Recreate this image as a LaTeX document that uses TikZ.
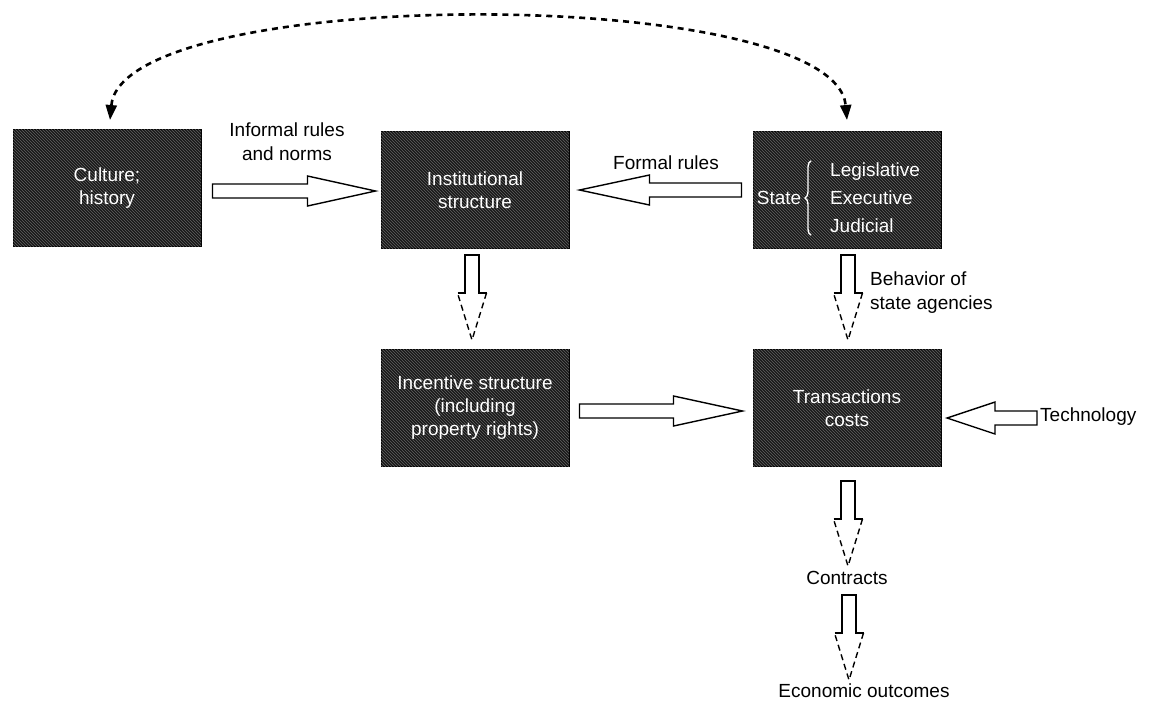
\documentclass[tikz,border=0pt]{standalone}
\usepackage{fontspec}
\setmainfont{Liberation Sans}
\usetikzlibrary{arrows.meta,calc,patterns,decorations.pathreplacing}
\tikzset{
  pics/hblock/.style args={#1/#2/#3}{code={
    \draw[blockline,fill=white] (0,-7) -- ({#1-#2},-7) -- ({#1-#2},-#3) -- (#1,0) -- ({#1-#2},#3) -- ({#1-#2},7) -- (0,7) -- cycle;}},
  pics/vblock/.style={code={
    \draw[blockline] (-14.5,38) -- (-7,38) -- (-7,0) -- (7,0) -- (7,38) -- (14.5,38);
    \draw[blockline,dash pattern=on 6pt off 4pt] (14.5,38) -- (0,85) -- (-14.5,38);}},
}
\begin{document}
\begin{tikzpicture}[x=1pt,y=-1pt,
  box/.style={draw=black, line width=1pt, fill=black!90,
    postaction={pattern=north west lines, pattern color=black!62},
    minimum width=188pt, minimum height=117pt, inner sep=0pt,
    text=white, align=center, font=\fontsize{19}{23}\selectfont},
  intext/.style={text=white, inner sep=0pt, font=\fontsize{19}{28}\selectfont},
  lbl/.style={font=\fontsize{19}{24}\selectfont, align=center, inner sep=0pt},
  blockline/.style={line width=1.4pt, line join=miter},
  bracestyle/.style={draw=white, line width=1.4pt, decorate,
    decoration={brace, amplitude=6pt}},
  feedback/.style={line width=2.6pt, dash pattern=on 6pt off 5pt,
    {Triangle[length=15pt,width=11pt]}-{Triangle[length=15pt,width=11pt]}},
]
\useasboundingbox (0,0) rectangle (1150,705);

% boxes
\node[box] (cult)  at (107,188) {Culture;\\history};
\node[box] (inst)  at (475,190) {Institutional\\structure};
\node[box] (state) at (847,190) {};
\node[box] (inc)   at (475,408) {Incentive structure\\(including\\property rights)};
\node[box] (trans) at (847,408) {Transactions\\costs};

% state contents
\node[intext] (statelbl) at ($(state.center)+(-68,8)$) {State};
\node[intext, align=left, anchor=west] (branches) at ($(state.center)+(-17,8)$) {Legislative\\Executive\\Judicial};
\draw[bracestyle] ($(branches.south west)+(-19,2)$) -- ($(branches.north west)+(-19,-2)$);

% labels
\node[lbl] (inf) at (287,142) {Informal rules\\and norms};
\node[lbl] (form) at (666,163) {Formal rules};
\node[lbl, align=left, anchor=west] (behav) at (870,293) {Behavior of\\state agencies};
\node[lbl, anchor=west] (tech) at (1040,417) {Technology};
\node[lbl] (contracts) at (847,578) {Contracts};
\node[lbl] (econ) at (864,691) {Economic outcomes};

% block arrows
\pic at ($(cult.east)+(11,3)$) {hblock=163/68/15};
\pic[rotate=180] at ($(state.west)+(-11,0)$) {hblock=162/70/15};
\pic at ($(inc.east)+(10,3)$) {hblock=163/69/15};
\pic[rotate=180] at ($(tech.west)+(-3,1)$) {hblock=90/48/16};
\pic at ($(inst.south)+(-3,6)$) {vblock};
\pic at ($(state.south)+(1,6)$) {vblock};
\pic at ($(trans.south)+(1,14)$) {vblock};
\pic at ($(contracts.center)+(2,17)$) {vblock};

% feedback curve
\draw[feedback] ($(cult.north)+(3,-9)$) .. controls +(12,-136) and +(-12,-136) .. ($(state.north)+(0,-11)$);
\end{tikzpicture}
\end{document}
